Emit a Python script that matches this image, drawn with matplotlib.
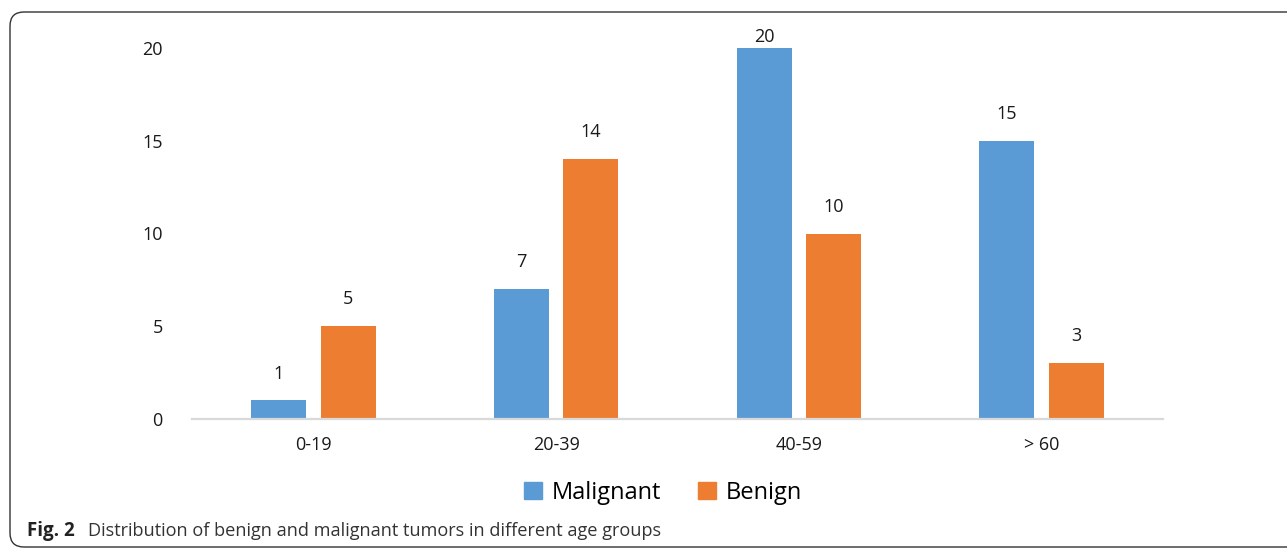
import matplotlib
matplotlib.use("Agg")
from matplotlib import pyplot as plt
from matplotlib.patches import FancyBboxPatch, Patch
import numpy as np

groups = ["0-19", "20-39", "40-59", "> 60"]
malignant = [1, 7, 20, 15]
benign = [5, 14, 10, 3]

blue = "#5B9BD5"
orange = "#ED7D31"
txt = "#1a1a1a"

plt.rcParams['font.family'] = ['Open Sans', 'DejaVu Sans']

fig = plt.figure(figsize=(12.87, 5.48), dpi=100)
ax = fig.add_axes([192 / 1287, 129 / 548, 971 / 1287, 371 / 548])

x = np.arange(len(groups))
w = 0.227
off = 0.143
ax.bar(x - off, malignant, w, color=blue, label="Malignant")
ax.bar(x + off, benign, w, color=orange, label="Benign")

# value labels above bars (kept inside the top of the plot)
for xs, vals in ((x - off, malignant), (x + off, benign)):
    for xi, v in zip(xs, vals):
        ax.text(xi, min(v + 1.45, 20.6), str(v), ha="center", va="center",
                fontsize=13, color=txt, clip_on=False)

ax.set_xlim(-0.5, len(groups) - 0.5)
ax.set_ylim(0, 20)
ax.set_yticks([0, 5, 10, 15, 20])
ax.set_xticks(x)
ax.set_xticklabels(groups)
ax.tick_params(axis="both", length=0, labelsize=13, colors=txt)
ax.tick_params(axis="y", pad=21)
ax.tick_params(axis="x", pad=12)
for s in ("top", "right", "left"):
    ax.spines[s].set_visible(False)
ax.spines["bottom"].set_color("#d9d9d9")
ax.spines["bottom"].set_linewidth(1.6)

handles = [Patch(color=blue), Patch(color=orange)]
fig.legend(handles, ["Malignant", "Benign"], loc="center", ncol=2,
           bbox_to_anchor=(663 / 1287, 1 - 493 / 548), frameon=False,
           fontsize=17, handlelength=0.75, handleheight=0.75,
           handletextpad=0.4, columnspacing=1.6)

# caption
fig.text(27 / 1287, 12 / 548, "Fig. 2", fontsize=13.5, fontweight="bold",
         color="#222222", va="baseline", ha="left")
fig.text(88 / 1287, 12 / 548,
         "Distribution of benign and malignant tumors in different age groups",
         fontsize=13.1, color="#333333", va="baseline", ha="left")

# rounded frame around figure
frame = FancyBboxPatch((10, 1), 1300, 535,
                       boxstyle="round,pad=0,rounding_size=14",
                       transform=None, fill=False, edgecolor="#333333",
                       linewidth=1.0)
fig.patches.append(frame)

fig.savefig("out.png", dpi=100)
